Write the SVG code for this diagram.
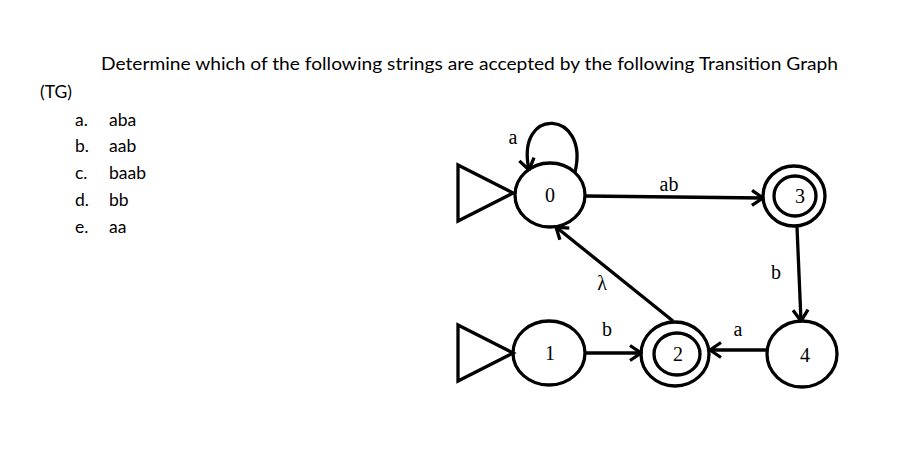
<svg xmlns="http://www.w3.org/2000/svg" width="916" height="459" viewBox="0 0 916 459">
<defs>
<style>
.t{font-family:Lato,"Open Sans","Liberation Sans",sans-serif;font-size:17.5px;fill:#000}
.s{fill:none;stroke:#000;stroke-width:3.3}
.lbl{font-family:"Liberation Serif","Times New Roman",serif;font-size:20px;fill:#000;text-anchor:middle}
.e{fill:none;stroke:#000;stroke-width:3.3}
</style>
<marker id="arr" viewBox="0 0 14 18" refX="12.5" refY="9" markerWidth="14" markerHeight="18" markerUnits="userSpaceOnUse" orient="auto">
<path d="M1.5,1.5 L12.5,9 L1.5,16.5" fill="none" stroke="#000" stroke-width="3.3"/>
</marker>
</defs>
<rect width="916" height="459" fill="#fff"/>
<g id="text">
<text class="t" x="101" y="70" textLength="737" lengthAdjust="spacingAndGlyphs">Determine which of the following strings are accepted by the following Transition Graph</text>
<text class="t" x="40" y="98">(TG)</text>
<text class="t" x="75" y="126">a.</text><text class="t" x="109" y="126">aba</text>
<text class="t" x="75" y="152">b.</text><text class="t" x="109" y="152">aab</text>
<text class="t" x="75" y="179">c.</text><text class="t" x="109" y="179">baab</text>
<text class="t" x="75" y="206">d.</text><text class="t" x="109" y="206">bb</text>
<text class="t" x="75" y="233">e.</text><text class="t" x="109" y="233">aa</text>
</g>
<g id="connectors">
<path class="e" d="M575,172 C590,110 515,105 529,170" marker-end="url(#arr)"/>
<text class="lbl" x="513" y="144">a</text>
<path class="e" d="M585,196 L763,198" marker-end="url(#arr)"/>
<text class="lbl" x="669" y="191">ab</text>
<path class="e" d="M797,227 L801,321" marker-end="url(#arr)"/>
<text class="lbl" x="776" y="279">b</text>
<path class="e" d="M767,350 L710,350" marker-end="url(#arr)"/>
<text class="lbl" x="738" y="336">a</text>
<path class="e" d="M585,353 L641,353" marker-end="url(#arr)"/>
<text class="lbl" x="607" y="336">b</text>
<path class="e" d="M673,321 L556,227" marker-end="url(#arr)"/>
<text class="lbl" x="602" y="290">λ</text>
</g>
<g id="start0"><path class="s" d="M458,165 L513,193 L458,221 Z"/></g>
<g id="start1"><path class="s" d="M458,325 L513,353 L458,381 Z"/></g>
<g id="node0"><ellipse class="s" cx="550" cy="195" rx="35" ry="32"/><text class="lbl" x="550" y="202">0</text></g>
<g id="node1"><ellipse class="s" cx="549" cy="353" rx="36" ry="32"/><text class="lbl" x="550" y="360">1</text></g>
<g id="node2"><ellipse class="s" cx="675" cy="354" rx="34" ry="32"/><ellipse class="s" cx="677" cy="354" rx="23" ry="21"/><text class="lbl" x="678" y="361">2</text></g>
<g id="node3"><ellipse class="s" cx="794" cy="196" rx="31" ry="30"/><ellipse class="s" cx="795" cy="196" rx="21" ry="20"/><text class="lbl" x="800" y="203">3</text></g>
<g id="node4"><ellipse class="s" cx="802" cy="354" rx="35" ry="33"/><text class="lbl" x="805" y="362">4</text></g>
</svg>
